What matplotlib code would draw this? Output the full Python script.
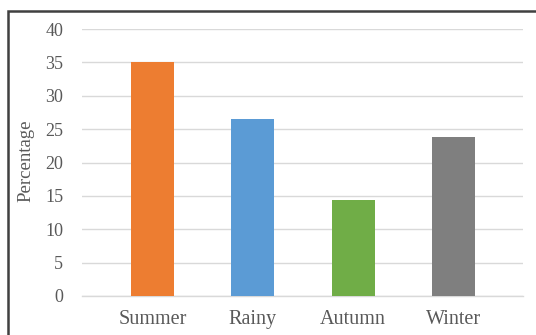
import matplotlib
matplotlib.use("Agg")
import matplotlib.pyplot as plt
from matplotlib.patches import Rectangle

categories = ["Summer", "Rainy", "Autumn", "Winter"]
values = [35.1, 26.5, 14.4, 23.8]
colors = ["#ED7D31", "#5B9BD5", "#70AD47", "#7F7F7F"]
yticks = [0, 5, 10, 15, 20, 25, 30, 35, 40]

plt.rcParams["font.family"] = ["Liberation Serif", "DejaVu Serif"]

W, H = 536, 335
fig = plt.figure(figsize=(W / 100, H / 100), dpi=100)
fig.patch.set_facecolor("white")

# outer chart-area border
fig.patches.append(Rectangle((7.5 / W, -0.05), 1.2, (H - 10.5) / H + 0.05,
                             transform=fig.transFigure, fill=False,
                             edgecolor="#404040", linewidth=1.8))

ax = fig.add_axes([82 / W, 1 - 296 / H, (523 - 82) / W, (296 - 29) / H])
x = list(range(len(categories)))
ax.bar(x, values, width=0.43, color=colors, zorder=3)
ax.set_xlim(-0.70, 3.69)
ax.set_ylim(0, 40)
ax.set_yticks(yticks)
ax.set_yticklabels([str(t) for t in yticks])
ax.set_xticks(x)
ax.set_xticklabels(categories)
ax.grid(axis="y", color="#D9D9D9", linewidth=1.0, zorder=0)
for s in ["top", "right", "left"]:
    ax.spines[s].set_visible(False)
ax.spines["bottom"].set_color("#D9D9D9")
ax.spines["bottom"].set_linewidth(1.0)
ax.tick_params(axis="both", length=0, colors="#595959")
ax.tick_params(axis="y", pad=13.5, labelsize=13)
ax.tick_params(axis="x", pad=10, labelsize=14.5)
fig.text(26 / W, 1 - 161 / H, "Percentage", rotation=90, fontsize=13.5,
         color="#595959", ha="center", va="center")

fig.savefig("out.png", dpi=100, facecolor="white")
